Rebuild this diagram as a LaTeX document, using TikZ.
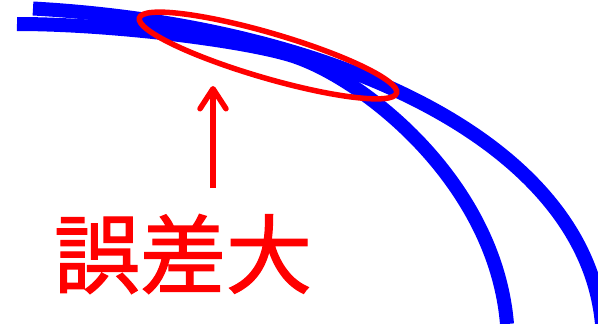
\documentclass[tikz,border=0pt]{standalone}
\usepackage{fontspec}
\usepackage{tikz}
\usetikzlibrary{shapes.geometric,arrows.meta}
\newfontfamily\jpfont[FakeBold=1.5]{Noto Sans CJK JP}
\definecolor{curveblue}{RGB}{0,0,255}
\definecolor{errorred}{RGB}{255,0,0}

\begin{document}
\begin{tikzpicture}[
    x=1pt, y=-1pt,
    curve/.style={draw=curveblue, line width=14pt},
    marker/.style={ellipse, draw=errorred, line width=5.5pt, minimum width=268pt, minimum height=45pt, inner sep=0pt},
    pointer/.style={draw=errorred, line width=5.5pt, -{Straight Barb[round, length=20pt, width=26pt]}},
    every node/.style={font=\jpfont}
]
\useasboundingbox (0,0) rectangle (598,324);
% the two curves
\draw[curve] (33,8.5) .. controls (330,25) and (585,140) .. (602,324);
\draw[curve] (17,24) .. controls (110,24) and (240,40) .. (290,55)
    .. controls (360,76) and (495,180) .. (507,324);
% region of large error
\node[marker, rotate=-16.3] (errzone) at (268,55.5) {};
\coordinate (tail) at (213,188);
\coordinate (tip) at (213,86);
\draw[pointer] (tail) -- (tip);
\node[text=errorred, font=\jpfont\fontsize{86}{86}\selectfont] (label) at (183,254) {誤差大};
\end{tikzpicture}
\end{document}
